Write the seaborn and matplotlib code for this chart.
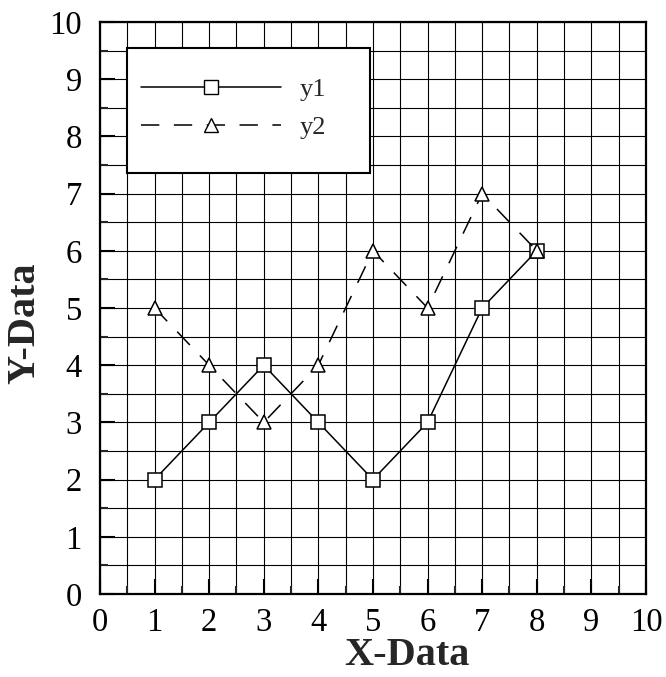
import matplotlib
matplotlib.use("Agg")
import matplotlib.pyplot as plt
import seaborn as sns
import pandas as pd
from matplotlib.ticker import MultipleLocator
from matplotlib.lines import Line2D
from matplotlib.patches import Rectangle

x = [1, 2, 3, 4, 5, 6, 7, 8]
y1 = [2, 3, 4, 3, 2, 3, 5, 6]
y2 = [5, 4, 3, 4, 6, 5, 7, 6]
series_names = ["y1", "y2"]

sns.set_theme(style="white")
plt.rcParams['font.family'] = ['Liberation Serif', 'DejaVu Serif']

df = pd.DataFrame({"x": x + x, "y": y1 + y2,
                   "series": [series_names[0]] * len(x) + [series_names[1]] * len(x)})

DASH = (12, 9.5)

fig = plt.figure(figsize=(6.66, 6.77), dpi=100)
ax = fig.add_axes([0.150, 0.1226, 0.820, 0.845])

sns.lineplot(data=df, x="x", y="y", hue="series", style="series",
             palette=["black", "black"], markers=["s", "^"],
             dashes=[(None, None), DASH], ax=ax, linewidth=1.1,
             markersize=10, markerfacecolor="white", markeredgecolor="black",
             markeredgewidth=1.1, legend=False, zorder=3)

ax.set_xlim(0, 10)
ax.set_ylim(0, 10)
ax.xaxis.set_major_locator(MultipleLocator(1))
ax.yaxis.set_major_locator(MultipleLocator(1))
ax.xaxis.set_minor_locator(MultipleLocator(0.5))
ax.yaxis.set_minor_locator(MultipleLocator(0.5))
ax.grid(True, which="both", color="black", linewidth=0.8)
ax.set_axisbelow(True)
ax.tick_params(which="major", direction="in", length=11, width=1.5, labelsize=23.5,
               left=True, bottom=True, top=False, right=False, colors="black")
ax.tick_params(axis="y", which="major", pad=13)
ax.tick_params(axis="x", which="major", pad=10)
ax.tick_params(which="minor", direction="in", length=6, width=1.5,
               left=True, bottom=True, top=False, right=False)
for s in ax.spines.values():
    s.set_color("black")
    s.set_linewidth(1.6)

ax.set_xlabel("X-Data", fontsize=29, fontweight="bold")
ax.set_ylabel("Y-Data", fontsize=29, fontweight="bold")
ax.xaxis.set_label_coords(0.562, -0.1245)
ax.xaxis.label.set_verticalalignment("baseline")
ax.yaxis.set_label_coords(-0.104, 0.474)

handles = [Line2D([], [], color="black", lw=1.1, marker="s", markersize=10,
                  markerfacecolor="white", markeredgecolor="black"),
           Line2D([], [], color="black", lw=1.1, ls=(0, DASH), marker="^", markersize=10,
                  markerfacecolor="white", markeredgecolor="black")]
frame = Rectangle((0.0495, 0.736), 0.445, 0.2185, transform=ax.transAxes,
                  facecolor="white", edgecolor="black", linewidth=1.5, zorder=4)
ax.add_patch(frame)
leg = ax.legend(handles, series_names, loc="upper left", bbox_to_anchor=(0.075, 0.902),
                fontsize=19, handlelength=5.3, frameon=False,
                borderpad=0, labelspacing=0.55, handletextpad=0.72, borderaxespad=0)
leg.set_zorder(5)

fig.savefig("out.png", dpi=100)
